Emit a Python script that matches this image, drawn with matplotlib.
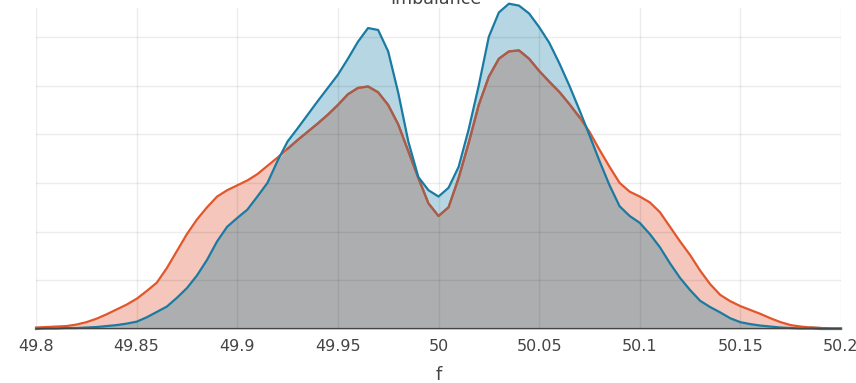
import numpy as np
import matplotlib
matplotlib.use("Agg")
import matplotlib.pyplot as plt

f_vals = [round(49.8 + 0.005 * i, 3) for i in range(81)]

dens_orange = [
    0.03, 0.04, 0.05, 0.06, 0.09, 0.14, 0.21, 0.30, 0.40, 0.50,
    0.62, 0.78, 0.95, 1.25, 1.60, 1.95, 2.25, 2.50, 2.72, 2.85,
    2.95, 3.05, 3.18, 3.35, 3.52, 3.70, 3.88, 4.05, 4.22, 4.40,
    4.60, 4.82, 4.95, 4.98, 4.86, 4.60, 4.20, 3.65, 3.10, 2.58,
    2.32, 2.50, 3.10, 3.82, 4.60, 5.18, 5.55, 5.70, 5.72, 5.55,
    5.30, 5.08, 4.87, 4.62, 4.35, 4.05, 3.68, 3.33, 3.00, 2.82,
    2.72, 2.60, 2.40, 2.10, 1.80, 1.52, 1.20, 0.92, 0.70, 0.57,
    0.47, 0.39, 0.31, 0.22, 0.14, 0.08, 0.05, 0.03, 0.02, 0.01,
    0.01,
]

dens_blue = [
    0.00, 0.01, 0.01, 0.02, 0.02, 0.03, 0.04, 0.06, 0.08, 0.11,
    0.15, 0.24, 0.35, 0.46, 0.64, 0.84, 1.10, 1.42, 1.80, 2.10,
    2.28, 2.45, 2.72, 3.00, 3.45, 3.85, 4.12, 4.40, 4.68, 4.95,
    5.22, 5.55, 5.90, 6.18, 6.14, 5.70, 4.85, 3.85, 3.12, 2.85,
    2.72, 2.90, 3.33, 4.10, 5.00, 6.00, 6.50, 6.68, 6.64, 6.48,
    6.20, 5.88, 5.46, 5.00, 4.50, 3.98, 3.45, 2.95, 2.52, 2.32,
    2.18, 1.95, 1.68, 1.35, 1.05, 0.80, 0.58, 0.45, 0.34, 0.22,
    0.14, 0.10, 0.07, 0.05, 0.03, 0.02, 0.01, 0.01, 0.00, 0.00,
    0.00,
]

x_ticks = [49.8, 49.85, 49.9, 49.95, 50.0, 50.05, 50.1, 50.15, 50.2]
x_ticklabels = ["49.8", "49.85", "49.9", "49.95", "50", "50.05", "50.1", "50.15", "50.2"]

# --- Farben ---
C_ORANGE = "#e2562b"
C_BLUE = "#1a7ba2"
C_BROWN = "#a45e4e"
F_ORANGE = "#f5c6bb"
F_BLUE = "#b5d6e2"
F_GRAY = "#acaeb0"

plt.rcParams["font.family"] = ["DejaVu Sans"]

x = np.array(f_vals)
yo = np.array(dens_orange)
yb = np.array(dens_blue)
ymin = np.minimum(yo, yb)

fig = plt.figure(figsize=(8.56, 3.83), dpi=100)
ax = fig.add_axes([36 / 856, 54 / 383, 805 / 856, 321 / 383])

ax.fill_between(x, 0, yo, color=F_ORANGE, lw=0, clip_on=False, zorder=1)
ax.fill_between(x, 0, yb, color=F_BLUE, lw=0, clip_on=False, zorder=1)
ax.fill_between(x, 0, ymin, color=F_GRAY, lw=0, clip_on=False, zorder=1.5)

# orange Linie, im Überlappungsbereich bräunlich
ax.plot(x, yo, color=C_ORANGE, lw=1.6, clip_on=False, zorder=3, solid_joinstyle="round")
yo_hidden = np.where(yo <= yb + 0.02, yo, np.nan)
ax.plot(x, yo_hidden, color=C_BROWN, lw=1.6, clip_on=False, zorder=3.1, solid_joinstyle="round")
ax.plot(x, yb, color=C_BLUE, lw=1.6, clip_on=False, zorder=4, solid_joinstyle="round")

ax.set_xlim(49.8, 50.2)
ax.set_ylim(0, 321 / 48.7)
ax.set_xticks(x_ticks)
ax.set_xticklabels(x_ticklabels)
ax.set_yticks([1, 2, 3, 4, 5, 6])
ax.set_yticklabels([])
ax.tick_params(axis="both", length=0)
ax.tick_params(axis="x", labelsize=11.5, labelcolor="#444444", pad=7)

ax.grid(True, color="black", alpha=0.075, lw=1.0, zorder=2)
ax.set_axisbelow(False)
for s in ax.spines.values():
    s.set_visible(False)
ax.axhline(0, color="#444444", lw=1.6, zorder=5)

ax.set_xlabel("f", fontsize=13, color="#444444", labelpad=9)

fig.text(436 / 856, 1 - 4 / 383, "Imbalance", ha="center", va="baseline",
         fontsize=12.6, color="#444444")

fig.savefig("out.png", dpi=100)
